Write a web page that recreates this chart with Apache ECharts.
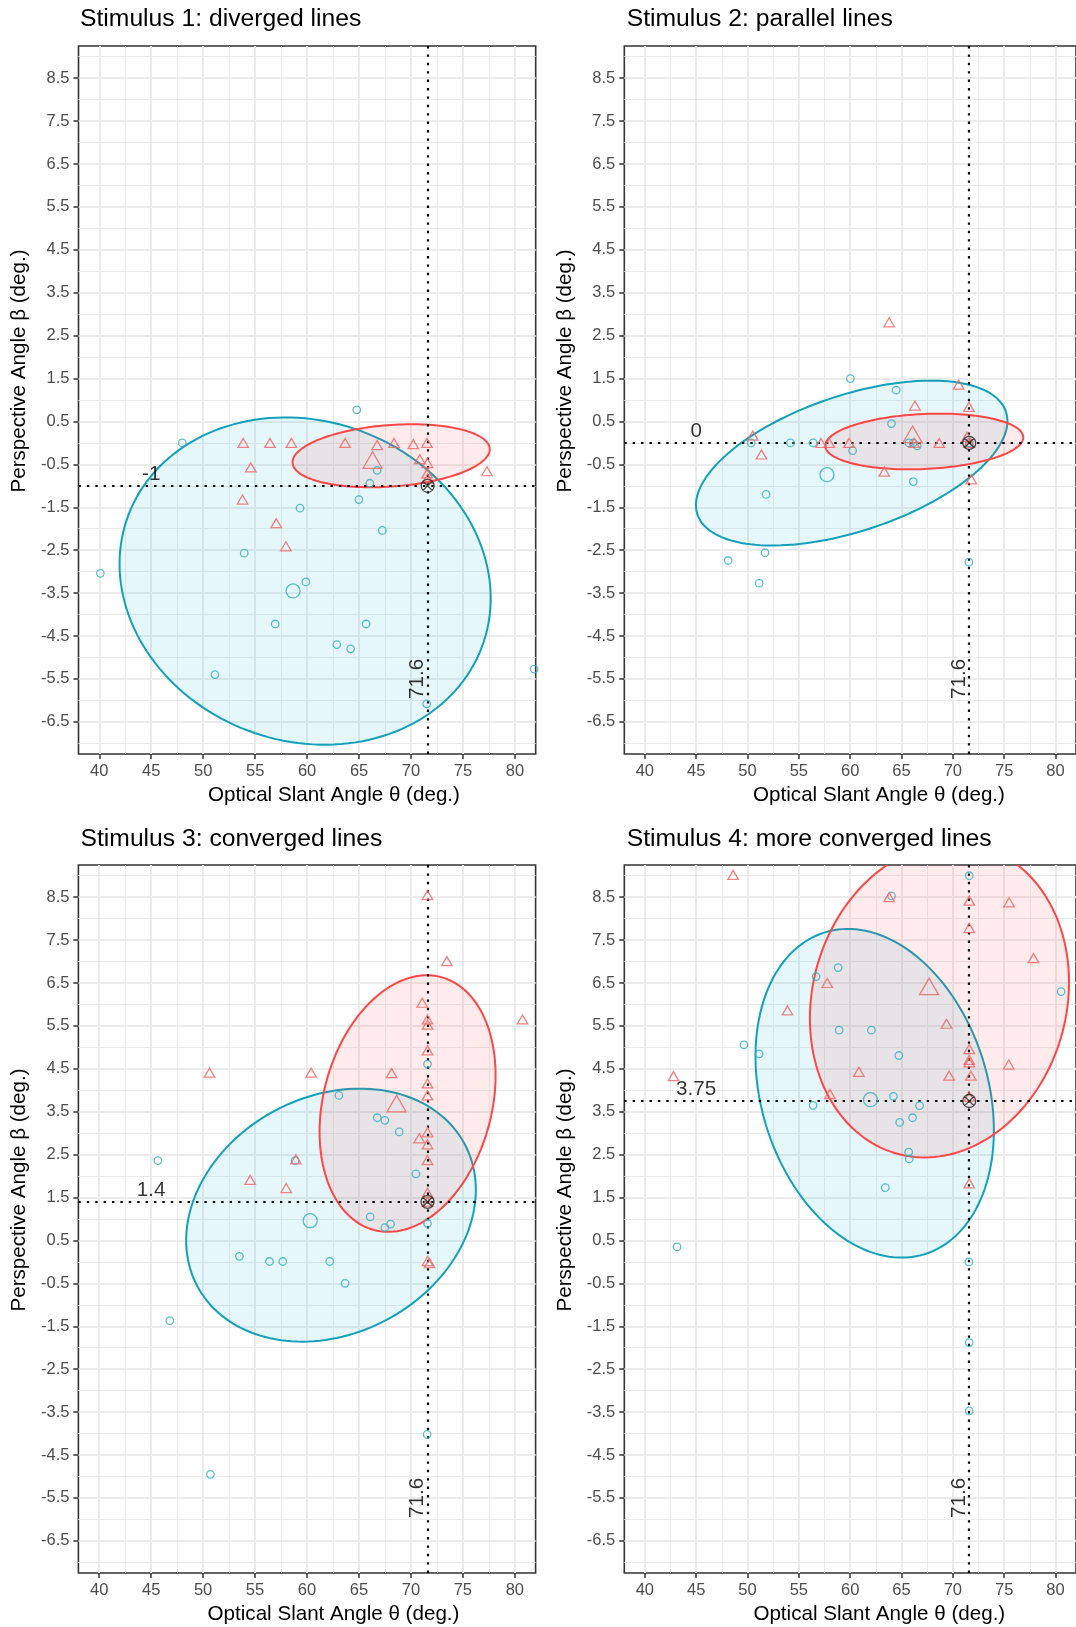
<!DOCTYPE html>
<html><head><meta charset="utf-8">
<script src="https://cdn.jsdelivr.net/npm/echarts@6/dist/echarts.min.js"></script>
<style>html,body{margin:0;padding:0;background:#fff}#c{width:1076px;height:1627px}</style>
</head><body><div id="c"></div>
<script>
// ---------- data ----------
const panelTitles = ['Stimulus 1: diverged lines', 'Stimulus 2: parallel lines', 'Stimulus 3: converged lines', 'Stimulus 4: more converged lines'];
const xTitle = 'Optical Slant Angle θ (deg.)';
const yTitle = 'Perspective Angle β (deg.)';
const trueX = 71.6;
const trueY = [-1, 0, 1.4, 3.75];
const trueYLabels = ['-1', '0', '1.4', '3.75'];
const trueXLabel = '71.6';
const xTicks = [40, 45, 50, 55, 60, 65, 70, 75, 80];
const xMinor = [42.5, 47.5, 52.5, 57.5, 62.5, 67.5, 72.5, 77.5];
const yTicks = [-6.5, -5.5, -4.5, -3.5, -2.5, -1.5, -0.5, 0.5, 1.5, 2.5, 3.5, 4.5, 5.5, 6.5, 7.5, 8.5];
const yMinor = [-7, -6, -5, -4, -3, -2, -1, 0, 1, 2, 3, 4, 5, 6, 7, 8, 9];

// Stimulus 1
const s1Circles = [[64.78,0.77],[47.99,0.0],[66.74,-0.64],[66.04,-0.94],[64.98,-1.32],[59.32,-1.52],[67.24,-2.04],[53.95,-2.57],[40.1,-3.04],[59.88,-3.24],[56.93,-4.22],[65.68,-4.22],[62.86,-4.70],[64.19,-4.80],[51.13,-5.40],[71.51,-6.08],[81.85,-5.27]];
const s1CircleMean = [[58.65,-3.45]];
const s1Triangles = [[53.85,0.0],[56.43,0.0],[58.49,0.0],[63.66,0.0],[66.74,-0.05],[68.36,0.0],[70.22,-0.03],[71.54,0.0],[70.85,-0.38],[71.58,-0.47],[54.58,-0.57],[77.31,-0.66],[71.55,-0.71],[71.6,-0.83],[53.78,-1.32],[57.03,-1.87],[57.96,-2.41]];
const s1TriangleMean = [[66.3,-0.4]];
const s1EllipseBlue = [59.81, -3.22, 17.86, 3.814, -0.105];
const s1EllipseRed = [68.09, -0.30, 9.49, 0.734, 0.206];

// Stimulus 2
const s2Circles = [[60.02,1.50],[64.48,1.23],[64.03,0.45],[50.36,0.0],[54.18,0.0],[56.39,0.0],[60.24,-0.18],[65.73,0.0],[66.15,0.0],[66.53,-0.07],[66.15,-0.9],[51.81,-1.2],[51.71,-2.56],[48.12,-2.74],[71.57,-2.78],[51.14,-3.27],[71.6,0.0]];
const s2CircleMean = [[57.74,-0.74]];
const s2Triangles = [[63.8,2.81],[70.57,1.36],[71.57,0.84],[66.31,0.87],[50.52,0.17],[57.16,0.0],[57.97,0.0],[59.89,0.0],[66.24,0.0],[68.68,0.0],[71.38,0.14],[51.36,-0.27],[63.32,-0.67],[71.8,-0.85],[71.6,0.0]];
const s2TriangleMean = [[66.08,0.2]];
const s2EllipseBlue = [60.15, -0.47, 15.17, 1.921, 0.51];
const s2EllipseRed = [67.22, 0.033, 9.64, 0.649, 0.15];

// Stimulus 3
const s3Circles = [[71.6,4.61],[63.07,3.88],[66.76,3.36],[67.49,3.30],[68.87,3.03],[45.65,2.36],[58.86,2.36],[70.48,2.05],[66.08,1.05],[67.49,0.80],[68.04,0.88],[71.6,0.90],[53.5,0.13],[56.39,0.01],[57.67,0.01],[62.19,0.01],[63.67,-0.5],[46.8,-1.37],[71.56,-4.02],[50.71,-4.95]];
const s3CircleMean = [[60.31,0.96]];
const s3Triangles = [[71.6,8.55],[73.46,7.01],[80.74,5.65],[71.09,6.04],[71.6,5.65],[71.6,5.53],[71.6,4.93],[71.6,4.16],[71.6,3.88],[50.62,4.41],[60.4,4.41],[68.14,4.40],[71.6,3.02],[70.8,2.88],[71.6,2.74],[71.6,2.37],[58.93,2.39],[54.53,1.91],[58.0,1.72],[71.6,1.61],[71.6,1.4],[71.6,0.02],[71.8,-0.03]];
const s3TriangleMean = [[68.62,3.69]];
const s3EllipseBlue = [62.31, 1.09, 13.94, 2.948, 0.2];
const s3EllipseRed = [69.68, 3.69, 8.47, 2.99, 0.22];

// Stimulus 4
const s4Circles = [[71.6,9.0],[64.03,8.53],[58.83,6.86],[56.68,6.65],[49.66,5.06],[51.13,4.85],[58.93,5.4],[62.07,5.4],[64.74,4.81],[64.22,3.86],[56.39,3.65],[66.76,3.64],[66.08,3.36],[64.83,3.25],[65.7,2.56],[65.76,2.4],[63.42,1.73],[80.55,6.3],[43.14,0.35],[71.57,0.0],[71.6,-1.88],[71.6,-3.47]];
const s4CircleMean = [[61.98,3.78]];
const s4Triangles = [[48.6,9.02],[63.8,8.5],[71.6,8.42],[75.48,8.38],[71.6,7.78],[77.86,7.08],[57.77,6.5],[53.89,5.86],[69.39,5.55],[71.6,4.96],[71.6,4.71],[71.6,4.65],[75.45,4.6],[60.85,4.43],[69.64,4.34],[71.76,4.34],[42.79,4.33],[58.03,3.91],[71.6,1.83],[71.6,3.85]];
const s4TriangleMean = [[67.69,6.42]];
const s4EllipseBlue = [62.39, 3.93, 11.61, 3.83, -0.225];
const s4EllipseRed = [68.7, 6.095, 12.62, 3.66, 0.115];

const panels = [
  {c: s1Circles, cm: s1CircleMean, t: s1Triangles, tm: s1TriangleMean, eb: s1EllipseBlue, er: s1EllipseRed},
  {c: s2Circles, cm: s2CircleMean, t: s2Triangles, tm: s2TriangleMean, eb: s2EllipseBlue, er: s2EllipseRed},
  {c: s3Circles, cm: s3CircleMean, t: s3Triangles, tm: s3TriangleMean, eb: s3EllipseBlue, er: s3EllipseRed},
  {c: s4Circles, cm: s4CircleMean, t: s4Triangles, tm: s4TriangleMean, eb: s4EllipseBlue, er: s4EllipseRed}
];

// ---------- style / layout ----------
const FONT = "'Liberation Sans', Arial, sans-serif";
const BLUE_LINE = '#13a1ba', BLUE_FILL = 'rgba(0,172,205,0.10)', BLUE_PT = '#2fb0c6';
const RED_LINE = '#ff4646', RED_FILL = 'rgba(255,60,60,0.10)', RED_PT = '#f06464';
const gridBoxes = [[78.5, 46], [624.3, 46], [78.4, 865], [624.3, 865]];
const GW = 457.2, GH = 708;
const titlePos = [[80, 18.7], [626.7, 18.7], [80.5, 838.7], [626.7, 838.7]];
const xTitlePos = [[334, 795], [879, 795], [333.5, 1614.5], [879.3, 1614.5]];
const yTitlePos = [[19, 371], [565, 371], [19, 1190], [565, 1190]];
const crossSymbol = 'path://M10,0A10,10,0,1,1,10,20A10,10,0,1,1,10,0ZM2.93,2.93L17.07,17.07M17.07,2.93L2.93,17.07';

function ellipseSeries(e, p, stroke, fill) {
  return {
    type: 'custom', xAxisIndex: 2 * p, yAxisIndex: 2 * p, clip: true, silent: true, z: 1,
    data: [[e[0], e[1]]],
    renderItem: function (params, api) {
      const pts = [];
      const n = 160;
      const k = Math.sqrt(1 - e[4] * e[4]);
      for (let i = 0; i < n; i++) {
        const t = 2 * Math.PI * i / n;
        const x = e[0] + e[2] * Math.cos(t);
        const y = e[1] + e[3] * (e[4] * Math.cos(t) + k * Math.sin(t));
        pts.push(api.coord([x, y]));
      }
      return {type: 'polygon', shape: {points: pts}, style: {fill: fill, stroke: stroke, lineWidth: 2}};
    }
  };
}

const grids = [], xAxes = [], yAxes = [], series = [], graphic = [];
panels.forEach(function (pd, p) {
  grids.push({left: gridBoxes[p][0], top: gridBoxes[p][1], width: GW, height: GH, show: true,
    borderColor: '#333333', borderWidth: 1.6, backgroundColor: '#ffffff'});
  // major x
  xAxes.push({gridIndex: p, type: 'value', min: 38, max: 82, position: 'bottom',
    axisLine: {show: false, onZero: false},
    axisTick: {show: true, length: 5, customValues: xTicks, lineStyle: {color: '#333333', width: 1.5}},
    axisLabel: {show: true, customValues: xTicks, color: '#4d4d4d', fontSize: 16.5, fontFamily: FONT, margin: 9},
    splitLine: {show: true, lineStyle: {color: '#ebebeb', width: 2}}});
  // minor x
  xAxes.push({gridIndex: p, type: 'value', min: 38, max: 82, position: 'bottom',
    axisLine: {show: false, onZero: false},
    axisTick: {show: false, customValues: xMinor},
    axisLabel: {show: false, customValues: xMinor},
    splitLine: {show: true, lineStyle: {color: '#ebebeb', width: 1}}});
  yAxes.push({gridIndex: p, type: 'value', min: -7.25, max: 9.25, position: 'left',
    axisLine: {show: false, onZero: false},
    axisTick: {show: true, length: 5, customValues: yTicks, lineStyle: {color: '#333333', width: 1.5}},
    axisLabel: {show: true, customValues: yTicks, color: '#4d4d4d', fontSize: 16.5, fontFamily: FONT, margin: 9,
      formatter: function (v) { return v.toFixed(1); }},
    splitLine: {show: true, lineStyle: {color: '#ebebeb', width: 2}}});
  yAxes.push({gridIndex: p, type: 'value', min: -7.25, max: 9.25, position: 'left',
    axisLine: {show: false, onZero: false},
    axisTick: {show: false, customValues: yMinor},
    axisLabel: {show: false, customValues: yMinor},
    splitLine: {show: true, lineStyle: {color: '#ebebeb', width: 1}}});

  series.push(ellipseSeries(pd.eb, p, BLUE_LINE, BLUE_FILL));
  series.push(ellipseSeries(pd.er, p, RED_LINE, RED_FILL));

  const base = {type: 'scatter', xAxisIndex: 2 * p, yAxisIndex: 2 * p, silent: true, z: 3};
  series.push(Object.assign({}, base, {data: pd.c, symbol: 'circle', symbolSize: 7.5,
    itemStyle: {color: 'rgba(0,0,0,0)', borderColor: BLUE_PT, borderWidth: 1.3}}));
  series.push(Object.assign({}, base, {data: pd.cm, symbol: 'circle', symbolSize: 14,
    itemStyle: {color: 'rgba(0,0,0,0)', borderColor: BLUE_PT, borderWidth: 1.3}}));
  series.push(Object.assign({}, base, {data: pd.t, symbol: 'triangle', symbolSize: [10.5, 9],
    itemStyle: {color: 'rgba(0,0,0,0)', borderColor: RED_PT, borderWidth: 1.3}}));
  series.push(Object.assign({}, base, {data: pd.tm, symbol: 'triangle', symbolSize: [19, 16.5],
    itemStyle: {color: 'rgba(0,0,0,0)', borderColor: RED_PT, borderWidth: 1.3}}));
  // true value marker + reference lines
  series.push(Object.assign({}, base, {data: [[trueX, trueY[p]]], symbol: crossSymbol, symbolSize: 13, z: 4,
    itemStyle: {color: 'rgba(0,0,0,0)', borderColor: '#222222', borderWidth: 1.3},
    markLine: {silent: true, symbol: 'none', animation: false, z: 2,
      label: {show: false},
      lineStyle: {color: '#000000', type: [2.4, 6], width: 2.2},
      data: [{xAxis: trueX}, {yAxis: trueY[p]}]}}));
  // annotations
  series.push(Object.assign({}, base, {data: [[45, trueY[p]]], symbol: 'circle', symbolSize: 1, z: 5,
    itemStyle: {color: 'rgba(0,0,0,0)'},
    label: {show: true, position: 'inside', offset: [0, -12], formatter: trueYLabels[p],
      color: '#000', fontSize: 20.6, fontFamily: FONT}}));
  series.push(Object.assign({}, base, {data: [[trueX - 1.0, -5.5]], symbol: 'circle', symbolSize: 1, z: 5,
    itemStyle: {color: 'rgba(0,0,0,0)'},
    label: {show: true, position: 'inside', rotate: 90, formatter: trueXLabel,
      color: '#000', fontSize: 20.6, fontFamily: FONT}}));

  graphic.push({type: 'text', x: titlePos[p][0], y: titlePos[p][1], silent: true,
    style: {text: panelTitles[p], fill: '#000', font: '24.7px ' + FONT, textAlign: 'left', textVerticalAlign: 'middle'}});
  graphic.push({type: 'text', x: xTitlePos[p][0], y: xTitlePos[p][1], silent: true,
    style: {text: xTitle, fill: '#000', font: '20.6px ' + FONT, textAlign: 'center', textVerticalAlign: 'middle'}});
  graphic.push({type: 'text', x: yTitlePos[p][0], y: yTitlePos[p][1], rotation: Math.PI / 2, silent: true,
    style: {text: yTitle, fill: '#000', font: '20.6px ' + FONT, textAlign: 'center', textVerticalAlign: 'middle'}});
});

const chart = echarts.init(document.getElementById('c'), null, {renderer: 'canvas'});
chart.setOption({
  animation: false,
  backgroundColor: '#ffffff',
  grid: grids, xAxis: xAxes, yAxis: yAxes, series: series, graphic: graphic
});
</script></body></html>
